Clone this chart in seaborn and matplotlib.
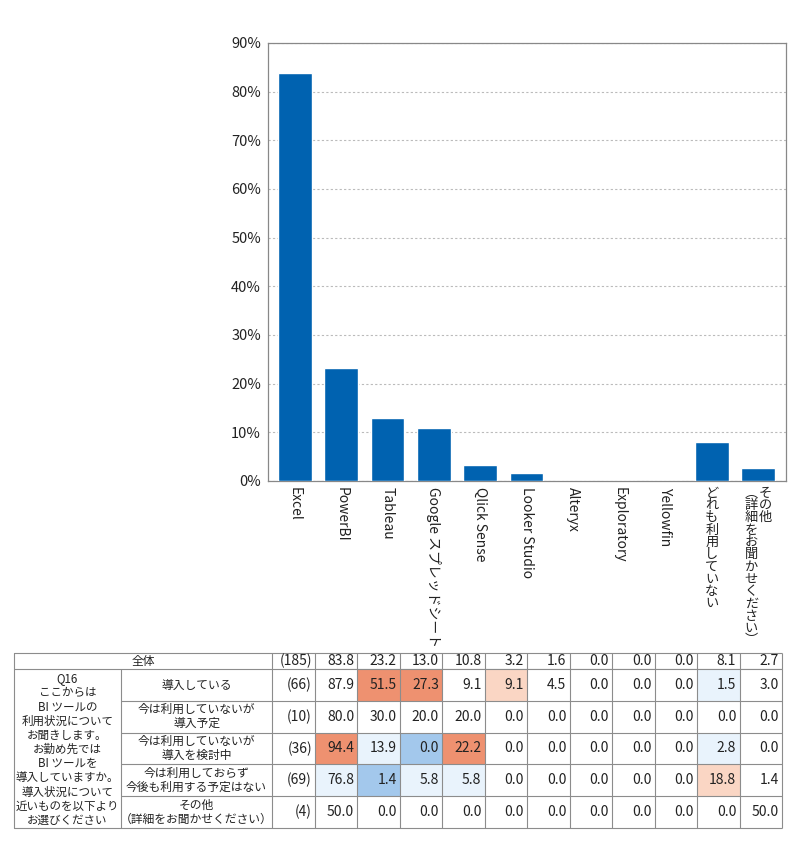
import matplotlib
matplotlib.use("Agg")
from matplotlib import pyplot as plt
from matplotlib.colors import ListedColormap
from matplotlib.ticker import PercentFormatter
import numpy as np
import pandas as pd
import seaborn as sns

sns.set_theme(style="white")
plt.rcParams["font.family"] = ["Noto Sans CJK JP", "DejaVu Sans"]

# data
tools = ["Excel", "PowerBI", "Tableau", "Google スプレッドシート", "Qlick Sense",
         "Looker Studio", "Alteryx", "Exploratory", "Yellowfin",
         "どれも利用していない", "その他\n（詳細をお聞かせください）"]
overall = [83.8, 23.2, 13.0, 10.8, 3.2, 1.6, 0.0, 0.0, 0.0, 8.1, 2.7]
overall_n = 185

question = ("Q16\nここからは\nBI ツールの\n利用状況について\nお聞きします。\nお勤め先では\n"
            "BI ツールを\n導入していますか。\n導入状況について\n近いものを以下より\nお選びください")
groups = ["導入している", "今は利用していないが\n導入予定", "今は利用していないが\n導入を検討中",
          "今は利用しておらず\n今後も利用する予定はない", "その他\n（詳細をお聞かせください）"]
group_n = [66, 10, 36, 69, 4]
group_values = [
    [87.9, 51.5, 27.3, 9.1, 9.1, 4.5, 0.0, 0.0, 0.0, 1.5, 3.0],
    [80.0, 30.0, 20.0, 20.0, 0.0, 0.0, 0.0, 0.0, 0.0, 0.0, 0.0],
    [94.4, 13.9, 0.0, 22.2, 0.0, 0.0, 0.0, 0.0, 0.0, 2.8, 0.0],
    [76.8, 1.4, 5.8, 5.8, 0.0, 0.0, 0.0, 0.0, 0.0, 18.8, 1.4],
    [50.0, 0.0, 0.0, 0.0, 0.0, 0.0, 0.0, 0.0, 0.0, 0.0, 50.0],
]
# highlight level of each cell: 2 much higher, 1 higher, -1 lower, -2 much lower
group_levels = [
    [0, 2, 2, 0, 1, 0, 0, 0, 0, -1, 0],
    [0, 0, 0, 0, 0, 0, 0, 0, 0, 0, 0],
    [2, -1, -2, 2, 0, 0, 0, 0, 0, -1, 0],
    [-1, -2, -1, -1, 0, 0, 0, 0, 0, 1, 0],
    [0, 0, 0, 0, 0, 0, 0, 0, 0, 0, 0],
]

W, H = 800, 860
fig = plt.figure(figsize=(W / 100, H / 100), dpi=100)
txt_c = "#222222"
line_c = "#8C8C8C"


def box(x0, y0, x1, y1):
    return [x0 / W, 1 - y1 / H, (x1 - x0) / W, (y1 - y0) / H]


# bar chart
ax = fig.add_axes(box(268, 43, 786, 481))
df = pd.DataFrame({"tool": tools, "share": np.array(overall) / 100})
sns.barplot(data=df, x="tool", y="share", color="#0062B0", width=0.73,
            saturation=1, ax=ax, zorder=3)
ax.set_ylim(0, 0.9)
ax.set_xlim(-0.58, 10.6)
ax.set_yticks(np.arange(0, 0.91, 0.1))
ax.yaxis.set_major_formatter(PercentFormatter(1.0, decimals=0))
ax.tick_params(axis="y", length=0, labelsize=10.5, colors=txt_c, pad=5)
ax.set_xticks(range(len(tools)))
ax.set_xticklabels([])
ax.tick_params(axis="x", length=0)
ax.set_xlabel("")
ax.set_ylabel("")
ax.yaxis.grid(True, color="#BBBBBB", linestyle=(0, (2, 2)), linewidth=0.8, zorder=0)
for s in ax.spines.values():
    s.set_color("#888888")
    s.set_linewidth(0.9)

# category labels: latin ones rotated, japanese ones in vertical writing
vert = {"（": "︵", "）": "︶"}
tr = ax.get_xaxis_transform()
for i, name in enumerate(tools):
    if any(c.isascii() and c.isalpha() for c in name):
        ax.text(i, -0.013, name, transform=tr, rotation=270, ha="center", va="top",
                fontsize=10, color=txt_c)
    else:
        cols = name.split("\n")
        k = len(cols)
        for c, col in enumerate(cols):
            dx = (k - 1) / 2 * 0.3 - c * 0.3
            txt = "\n".join(vert.get(ch, ch) for ch in col)
            ax.text(i + dx, -0.013, txt, transform=tr, ha="center", va="top",
                    fontsize=9.5, color=txt_c, linespacing=0.93)

# table: colored value cells
cmap = ListedColormap(["#A3C8EC", "#E9F3FC", "#FFFFFF", "#FAD6C4", "#EE9170"])


def cell_grid(a, nrows, ncols):
    a.hlines(range(nrows + 1), 0, ncols, color=line_c, linewidth=0.8, clip_on=False)
    a.vlines(range(ncols + 1), 0, nrows, color=line_c, linewidth=0.8, clip_on=False)


ax_head = fig.add_axes(box(315, 653, 782, 669))
sns.heatmap(np.zeros((1, len(tools))), cmap=cmap, vmin=-2.5, vmax=2.5, cbar=False,
            linewidths=0, xticklabels=False, yticklabels=False, ax=ax_head)
cell_grid(ax_head, 1, len(tools))
for j, v in enumerate(overall):
    ax_head.text(j + 0.92, 0.52, f"{v:.1f}", ha="right", va="center", fontsize=10,
                 color=txt_c)

ax_tab = fig.add_axes(box(315, 669, 782, 828))
sns.heatmap(np.array(group_levels), cmap=cmap, vmin=-2.5, vmax=2.5, cbar=False,
            linewidths=0, xticklabels=False, yticklabels=False, ax=ax_tab)
cell_grid(ax_tab, len(groups), len(tools))
for i, row in enumerate(group_values):
    for j, v in enumerate(row):
        ax_tab.text(j + 0.92, i + 0.5, f"{v:.1f}", ha="right", va="center",
                    fontsize=10, color=txt_c)

# table: left label part in pixel coordinates
ax_o = fig.add_axes([0, 0, 1, 1])
ax_o.set_xlim(0, W)
ax_o.set_ylim(H, 0)
ax_o.axis("off")
ax_o.patch.set_alpha(0)
top, head_b, bottom = 653, 669, 828
x_left, x_q, x_n, x_v = 14, 121, 272, 315
row_h = (bottom - head_b) / len(groups)
lk = dict(color=line_c, linewidth=0.8)
ax_o.plot([x_left, x_v], [top, top], **lk)
ax_o.plot([x_left, x_v], [bottom, bottom], **lk)
ax_o.plot([x_left, x_v], [head_b, head_b], **lk)
ax_o.plot([x_left, x_left], [top, bottom], **lk)
ax_o.plot([x_q, x_q], [head_b, bottom], **lk)
ax_o.plot([x_n, x_n], [top, bottom], **lk)
for k in range(1, len(groups)):
    y = head_b + k * row_h
    ax_o.plot([x_q, x_v], [y, y], **lk)

ax_o.text((x_left + x_n) / 2, (top + head_b) / 2, "全体", ha="center", va="center",
          fontsize=8.5, color=txt_c)
ax_o.text(x_v - 3, (top + head_b) / 2, f"({overall_n})", ha="right", va="center",
          fontsize=10, color=txt_c)
ax_o.text((x_left + x_q) / 2, (head_b + bottom) / 2 + 1, question, ha="center",
          va="center", fontsize=8.3, color=txt_c, linespacing=1.12)
for k, (g, n) in enumerate(zip(groups, group_n)):
    yc = head_b + (k + 0.5) * row_h
    ax_o.text((x_q + x_n) / 2, yc, g, ha="center", va="center", fontsize=8.5,
              color=txt_c, linespacing=1.1)
    ax_o.text(x_v - 3, yc, f"({n})", ha="right", va="center", fontsize=10,
              color=txt_c)

fig.savefig("out.png", dpi=100)
